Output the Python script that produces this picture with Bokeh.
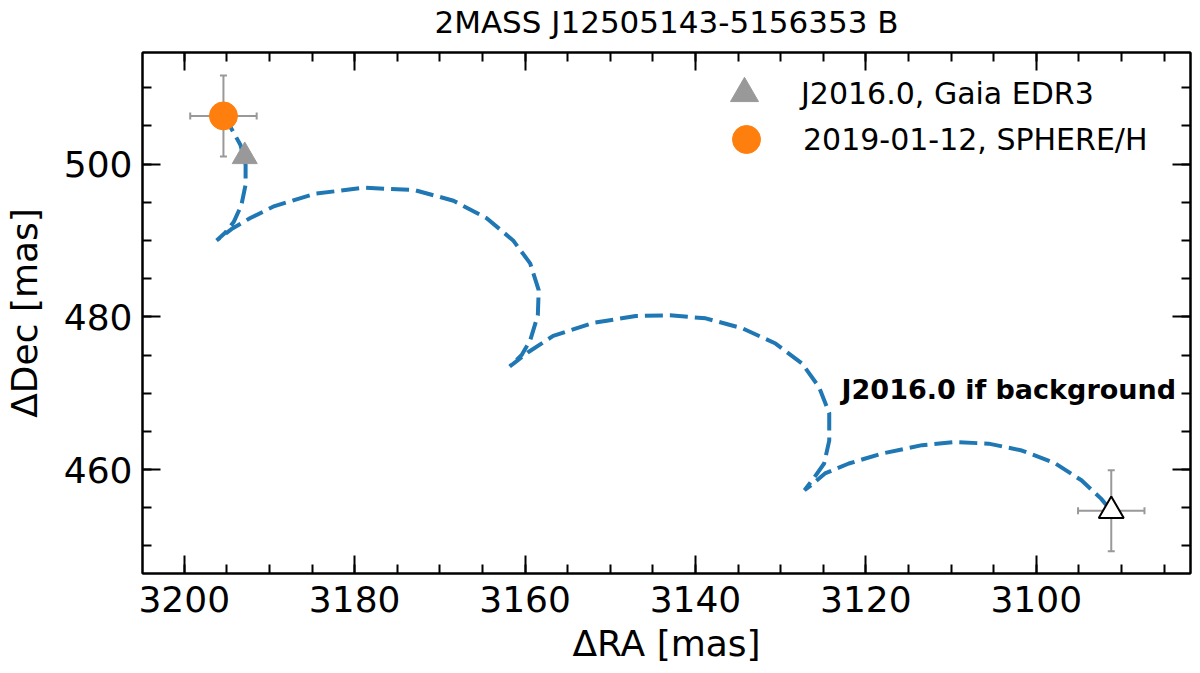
from bokeh.plotting import figure
from bokeh.models import (Range1d, LinearAxis, SingleIntervalTicker, Whisker, TeeHead,
                          ColumnDataSource, Legend, LegendItem, Label, CustomJSTickFormatter)
from bokeh.embed import file_html
from bokeh.resources import INLINE

# ---- data (mas) ----
track_ra = [3195.4, 3194.4, 3193.4, 3192.8, 3192.8, 3193.3, 3194.2, 3195.2, 3196.2, 3195.5,
            3194.3, 3192.3, 3189.4, 3184.7, 3178.9, 3173.0, 3168.4, 3164.5, 3161.4, 3159.4,
            3158.4, 3158.5, 3159.4, 3160.4, 3161.8, 3161.1, 3159.6, 3156.7, 3152.0, 3147.0,
            3143.0, 3138.8, 3134.5, 3130.6, 3127.5, 3125.5, 3124.3, 3124.3, 3124.9, 3126.1,
            3127.2, 3126.5, 3124.8, 3122.0, 3118.1, 3113.4, 3109.6, 3105.6, 3101.7, 3097.9,
            3094.7, 3092.4, 3091.2]
track_dec = [506.3, 504.5, 502.5, 499.9, 497.3, 494.6, 492.4, 491.0, 490.0, 490.6,
             491.6, 492.9, 494.5, 496.1, 496.9, 496.6, 495.2, 492.9, 490.0, 487.0,
             483.5, 480.2, 476.9, 475.0, 473.5, 474.1, 475.4, 477.5, 479.2, 480.1,
             480.2, 479.8, 478.5, 476.5, 473.9, 470.8, 467.4, 463.8, 460.8, 458.9,
             457.3, 457.9, 459.5, 460.8, 462.1, 463.2, 463.6, 463.4, 462.5, 460.9,
             458.6, 456.2, 454.6]

gaia_ra = [3192.9]
gaia_dec = [501.0]
gaia_ra_err = [0.3]
gaia_dec_err = [0.3]

sphere_ra = [3195.4]
sphere_dec = [506.3]
sphere_ra_err = [3.9]
sphere_dec_err = [5.3]

bg_ra = [3091.2]
bg_dec = [454.6]
bg_ra_err = [3.9]
bg_dec_err = [5.3]

labels = ["J2016.0, Gaia EDR3", "2019-01-12, SPHERE/H"]
title_text = "2MASS J12505143-5156353 B"
note_text = "J2016.0 if background"

FONT = "DejaVu Sans"
GRAY = "#999999"

p = figure(width=1200, height=673,
           x_range=Range1d(3204.9, 3081.9), y_range=Range1d(446.4, 514.6),
           output_backend="svg", toolbar_location=None,
           min_border_left=137, min_border_right=10, min_border_top=52, min_border_bottom=100,
           x_axis_label="ΔRA [mas]", y_axis_label="ΔDec [mas]")

p.title.text = title_text
p.title.align = "center"
p.title.text_font = FONT
p.title.text_font_size = "31px"
p.title.text_font_style = "normal"
p.title.text_color = "black"
p.title.standoff = 0
p.grid.visible = False
p.outline_line_color = "black"
p.outline_line_width = 2


def style_axis(ax, show):
    ax.ticker = SingleIntervalTicker(interval=20, num_minor_ticks=4)
    ax.axis_line_width = 2
    ax.axis_line_color = "black"
    ax.major_tick_in = 18
    ax.major_tick_out = 0
    ax.minor_tick_in = 9
    ax.minor_tick_out = 0
    ax.major_tick_line_width = 2
    ax.minor_tick_line_width = 2
    ax.major_tick_line_color = "black"
    ax.minor_tick_line_color = "black"
    if show:
        ax.major_label_text_font = FONT
        ax.major_label_text_font_size = "36px"
        ax.major_label_text_color = "black"
        ax.axis_label_text_font = FONT
        ax.axis_label_text_font_size = "36px"
        ax.axis_label_text_font_style = "normal"
        ax.axis_label_text_color = "black"
    else:
        ax.formatter = CustomJSTickFormatter(code="return ''")
        ax.major_label_text_font_size = "0px"
        ax.major_label_standoff = 0


xb = p.below[0]
yl = p.left[0]
style_axis(xb, True)
style_axis(yl, True)
xb.major_label_standoff = 12
xb.axis_label_standoff = 8
yl.major_label_standoff = 10
yl.axis_label_standoff = 16

xt = LinearAxis()
yr = LinearAxis()
style_axis(xt, False)
style_axis(yr, False)
# a blank axis label on the mirrored top axis keeps a gap between frame and title
xt.axis_label = " "
xt.axis_label_text_font_size = "9px"
xt.axis_label_standoff = 0
p.add_layout(xt, "above")
p.add_layout(yr, "right")

# background track
p.line(track_ra, track_dec, line_color="#1f77b4", line_width=4, line_dash="18 7")


# error bars
def errbars(xs, ys, xe, ye):
    src = ColumnDataSource(dict(
        x=xs, y=ys,
        xl=[a - e for a, e in zip(xs, xe)], xu=[a + e for a, e in zip(xs, xe)],
        yl=[a - e for a, e in zip(ys, ye)], yu=[a + e for a, e in zip(ys, ye)]))
    for dim, base, lo, up in (("width", "y", "xl", "xu"), ("height", "x", "yl", "yu")):
        w = Whisker(source=src, base=base, lower=lo, upper=up, dimension=dim,
                    line_color=GRAY, line_width=2,
                    upper_head=TeeHead(size=7, line_color=GRAY, line_width=2),
                    lower_head=TeeHead(size=7, line_color=GRAY, line_width=2))
        p.add_layout(w)


errbars(gaia_ra, gaia_dec, gaia_ra_err, gaia_dec_err)
errbars(sphere_ra, sphere_dec, sphere_ra_err, sphere_dec_err)
errbars(bg_ra, bg_dec, bg_ra_err, bg_dec_err)

r_gaia = p.scatter(gaia_ra, gaia_dec, marker="triangle", size=25,
                   fill_color=GRAY, line_color=GRAY)
r_sphere = p.scatter(sphere_ra, sphere_dec, marker="circle", size=28,
                     fill_color="#ff7f0e", line_color="#ff7f0e")
p.scatter(bg_ra, bg_dec, marker="triangle", size=25,
          fill_color="white", line_color="black", line_width=2)

p.add_layout(Label(x=3083.6, y=470.5, text=note_text, text_align="right",
                   text_baseline="middle", text_font=FONT, text_font_size="27px",
                   text_font_style="bold", text_color="black"))


def make_legend(label, rend, loc):
    return Legend(items=[LegendItem(label=label, renderers=[rend])],
                  location=loc, glyph_width=70, glyph_height=70,
                  label_standoff=22, padding=0, spacing=0, margin=0,
                  border_line_alpha=0, background_fill_alpha=0,
                  label_text_font=FONT, label_text_font_size="30px",
                  label_text_color="black")


p.add_layout(make_legend(labels[0], r_gaia, (567, 445)))
p.add_layout(make_legend(labels[1], r_sphere, (569, 399)))

open("out.html", "w").write(file_html(p, INLINE))
